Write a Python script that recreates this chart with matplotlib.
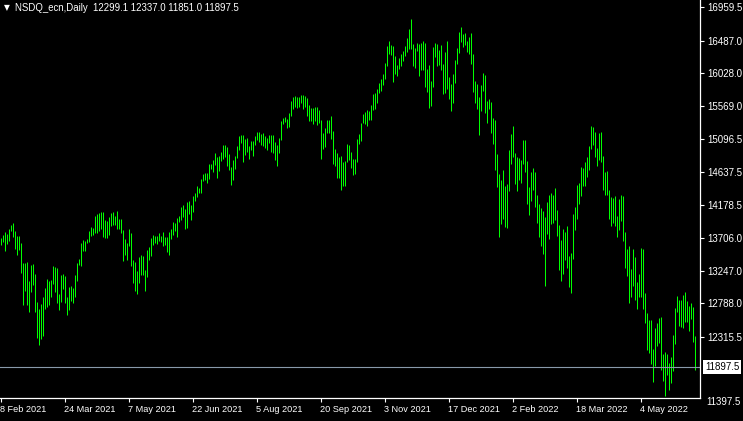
import numpy as np
import matplotlib.pyplot as plt

plt.rcParams['font.family'] = ['Liberation Sans', 'DejaVu Sans']

# NSDQ_ecn daily bars, high / low
symbol = "NSDQ_ecn,Daily"
last_ohlc = [12299.1, 12337.0, 11851.0, 11897.5]

highs = [
    13714, 13752, 13794, 13766, 13836, 13892, 13920, 13808, 13737, 13737,
    13639, 13358, 13358, 13372, 13104, 13329, 13343, 13203, 12809, 12710,
    12781, 12879, 13006, 13132, 13104, 13118, 13315, 13301, 13287, 12921,
    13189, 13203, 13175, 12879, 13020, 13034, 13006, 13189, 13358, 13414,
    13639, 13681, 13667, 13695, 13808, 13864, 13850, 14019, 14047, 14061,
    14075, 14075, 13963, 13949, 14005, 14061, 14075, 14019, 14089, 13977,
    13977, 13822, 13695, 13639, 13836, 13780, 13400, 13372, 13245, 13442,
    13470, 13456, 13259, 13540, 13583,
    13709, 13752, 13737, 13737, 13780, 13737, 13794, 13723, 13723, 13794,
    13836, 13935, 13920, 13991, 14019, 14146, 14174, 14118, 14216, 14230,
    14174, 14300, 14343, 14441, 14413, 14540, 14610, 14624, 14624, 14751,
    14751, 14807, 14905, 14849, 14863, 14919, 15018, 15018, 14990, 14891,
    14708, 14807, 14863, 15004, 15144, 15159, 15159, 15102, 15116, 15004,
    15074, 15074, 15144, 15201, 15201, 15173, 15187, 15144, 15116, 15159,
    15159, 15159, 15060, 15018, 15116,
    15356, 15398, 15412, 15384, 15468, 15637, 15693, 15707, 15693, 15693,
    15721, 15721, 15707, 15679, 15581, 15538, 15538, 15552, 15552, 15510,
    15370, 15187, 15257, 15370, 15370, 15426, 15215, 14962, 14905, 14849,
    14863, 14779, 14793, 15032, 15018, 14919, 14821, 14821, 15102, 15173,
    15327, 15454, 15482, 15510, 15496, 15581, 15735, 15750, 15806, 15890,
    15947, 16017, 16172, 16411, 16481, 16425, 16411, 16270, 16143, 16242,
    16298, 16340, 16411, 16523, 16650, 16791, 16439, 16383, 16453, 16439,
    16453, 16481, 16453, 16087, 16143, 15918, 16397, 16453, 16439, 16355,
    16425, 16157, 16326, 16481, 15975, 15876, 16017, 16214, 16383, 16608,
    16678, 16580, 16594, 16481, 16537, 16594, 16298, 15918, 15876, 15693,
    15862, 16031, 16003, 15637, 15665, 15623, 15398, 15370, 14891, 14610,
    14525, 14666, 14441, 14469, 14947, 15173, 15285, 14905, 14849, 14835,
    14807, 15088, 15088, 14793, 14427, 14638, 14694, 14638, 14314, 14188,
    14132, 14089, 14005, 14216, 14314, 14343, 14314, 14413, 14103, 13892,
    13681, 13836, 13794, 13878, 13456, 13498, 14047, 14146, 14455, 14483,
    14708, 14694, 14779, 14849, 15004, 15285, 15271, 15201, 14976, 15187,
    15201, 14863, 14638, 14652, 14385, 14286, 14272, 14300, 14019, 14258,
    14314, 14300, 13794, 13555, 13597, 13273, 13555, 13442, 13090, 13203,
    13569, 13555, 12935, 12654, 12556, 12556, 12148, 12443, 12513, 12584,
    12598, 12076, 12105, 12076, 11951, 12035, 12345, 12724, 12893, 12837,
    12837, 12907, 12949, 12823, 12753, 12795, 12739, 12337,
]

lows = [
    13611, 13649, 13531, 13629, 13663, 13812, 13728, 13559, 13474, 13540,
    13221, 12767, 12968, 12767, 12672, 12954, 13048, 12672, 12307, 12208,
    12293, 12335, 12715, 12734, 12767, 12883, 13066, 12950, 12791, 12700,
    12813, 12992, 12799, 12630, 12691, 12827, 12799, 12883, 13108, 13329,
    13319, 13531, 13531, 13635, 13657, 13742, 13752, 13780, 13784, 13808,
    13836, 13728, 13714, 13714, 13756, 13879, 13897, 13892, 13836, 13836,
    13784, 13390, 13474, 13404, 13601, 13319, 13080, 12968, 12926, 13080,
    13189, 13189, 12964, 13161, 13400,
    13456, 13611, 13639, 13625, 13667, 13653, 13597, 13611, 13512, 13470,
    13695, 13752, 13808, 13723, 13935, 13963, 14005, 13836, 13850, 14047,
    13963, 14075, 14230, 14286, 14343, 14343, 14511, 14525, 14483, 14540,
    14680, 14638, 14737, 14554, 14652, 14793, 14821, 14849, 14723, 14666,
    14455, 14525, 14680, 14835, 14947, 15046, 14779, 14877, 14919, 14821,
    14947, 14863, 15018, 15088, 15060, 15018, 15004, 14976, 14947, 15046,
    14919, 14905, 14807, 14723, 14905,
    15088, 15313, 15342, 15257, 15271, 15426, 15524, 15552, 15538, 15552,
    15609, 15524, 15552, 15426, 15356, 15356, 15313, 15356, 15299, 15327,
    14821, 14962, 14990, 15187, 15187, 15102, 14751, 14723, 14554, 14554,
    14385, 14441, 14441, 14779, 14807, 14694, 14596, 14610, 14779, 15032,
    15074, 15327, 15313, 15285, 15370, 15370, 15510, 15524, 15609, 15750,
    15778, 15862, 15947, 16130, 16298, 16284, 15904, 16017, 15989, 16087,
    16130, 16200, 16270, 16326, 16369, 16369, 16130, 16101, 16340, 15989,
    16073, 16073, 15834, 15764, 15538, 15567, 15834, 16256, 16130, 16143,
    16073, 15735, 15750, 15806, 15665, 15496, 15609, 15890, 16157, 16312,
    16467, 16397, 16425, 16326, 16298, 16157, 15764, 15609, 15524, 15159,
    15496, 15778, 15468, 15327, 15524, 15187, 15032, 14666, 14427, 13723,
    13906, 13977, 13864, 13850, 14371, 14751, 14849, 14469, 14371, 14525,
    14483, 14751, 14638, 14188, 14033, 14230, 14385, 14146, 13920, 13723,
    13597, 13484, 13034, 13766, 13695, 13906, 13920, 13963, 13737, 13259,
    13104, 13203, 13400, 13287, 13020, 12935, 13414, 13822, 13977, 14188,
    14300, 14441, 14441, 14568, 14666, 14962, 15018, 14849, 14723, 14807,
    14779, 14385, 14314, 14314, 13977, 13878, 13920, 13878, 13723, 13822,
    13949, 13667, 13287, 13175, 12795, 12879, 13034, 12837, 12710, 12879,
    12879, 12710, 12513, 12134, 12091, 11937, 11683, 11907, 12190, 12232,
    11852, 11697, 11486, 11782, 11571, 11669, 11838, 12218, 12668, 12471,
    12457, 12443, 12527, 12527, 12401, 12570, 12246, 11851,
]

date_labels = ["8 Feb 2021", "24 Mar 2021", "7 May 2021", "22 Jun 2021",
               "5 Aug 2021", "20 Sep 2021", "3 Nov 2021", "17 Dec 2021",
               "2 Feb 2022", "18 Mar 2022", "4 May 2022"]
date_ticks = [0, 32, 64, 96, 128, 160, 192, 224, 256, 288, 320]  # bar index

price_ticks = [16959.5, 16487.0, 16028.0, 15569.0, 15096.5, 14637.5,
               14178.5, 13706.0, 13247.0, 12788.0, 12315.5]
price_bottom = 11397.5

W, H = 743, 421
fig = plt.figure(figsize=(W / 100, H / 100), dpi=100, facecolor="black")
ax = fig.add_axes([0, 23 / H, 700 / W, 398 / H])
ax.set_facecolor("black")

x = np.arange(len(highs))
ax.vlines(x, lows, highs, colors="#00ff00", linewidth=0.72, snap=True)
ax.axhline(last_ohlc[3], color="#8899aa", lw=0.8)

ax.set_xlim(-0.25, 349.75)
ax.set_ylim(11458, 17058)

for side in ["left", "top"]:
    ax.spines[side].set_visible(False)
for side in ["right", "bottom"]:
    ax.spines[side].set_color("white")
    ax.spines[side].set_linewidth(0.9)

ax.yaxis.tick_right()
ax.set_yticks(price_ticks)
ax.set_yticklabels([f"{p:.1f}" for p in price_ticks])
ax.tick_params(axis="y", colors="white", length=3, width=0.8, labelsize=7, pad=2)

ax.set_xticks(date_ticks)
ax.set_xticklabels(date_labels)
ax.tick_params(axis="x", colors="white", length=3, width=0.8, labelsize=6.6, pad=2)
for lab in ax.get_xticklabels():
    lab.set_ha("left")

# bottom price label sits under the plot area
ax.annotate(f"{price_bottom:.1f}", xy=(1, price_bottom), xycoords=ax.get_yaxis_transform(),
            xytext=(4.3, 0), textcoords="offset points", color="white",
            fontsize=7, va="center", ha="left", annotation_clip=False)

# current price tag
ax.annotate(f"{last_ohlc[3]:.1f}", xy=(1, last_ohlc[3]), xycoords=ax.get_yaxis_transform(),
            xytext=(3.5, 0), textcoords="offset points", color="black",
            fontsize=7, va="center", ha="left", annotation_clip=False,
            bbox=dict(boxstyle="square,pad=0.2", fc="white", ec="none"))

# header line
fig.text(4 / W, 1 - 8 / H, "\u25bc", color="white", fontsize=5.5, va="center",
         family=["DejaVu Sans"])
head = symbol + "  " + " ".join(f"{v:.1f}" for v in last_ohlc)
fig.text(15 / W, 1 - 8 / H, head, color="white", fontsize=6.9, va="center")

fig.savefig("out.png", dpi=100, facecolor="black")
